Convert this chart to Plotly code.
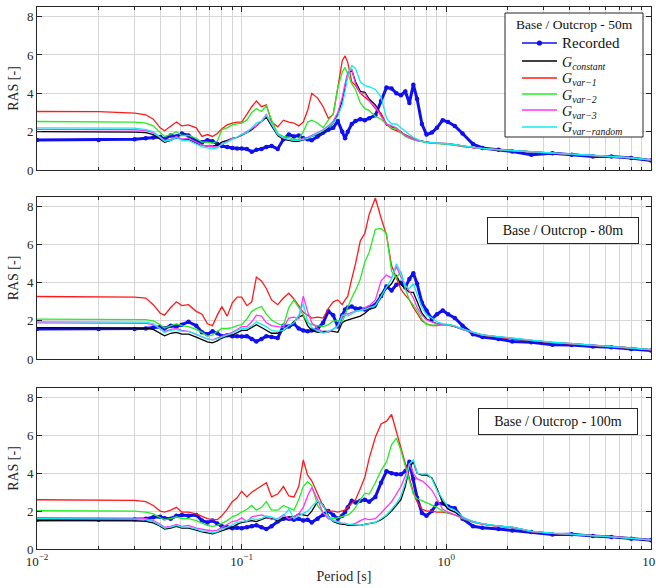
import plotly.graph_objects as go

# ---------------- data ----------------
period = [
    0.01, 0.02, 0.03, 0.034, 0.037, 0.04, 0.042, 0.045, 0.048, 0.051,
    0.055, 0.06, 0.064, 0.068, 0.072, 0.076, 0.08, 0.085, 0.09, 0.095,
    0.1, 0.106, 0.112, 0.118, 0.125, 0.132, 0.14, 0.15, 0.16, 0.17,
    0.18, 0.19, 0.2, 0.21, 0.22, 0.235, 0.25, 0.265, 0.28, 0.295,
    0.31, 0.32, 0.33, 0.345, 0.36, 0.38, 0.4, 0.42, 0.45, 0.48,
    0.51, 0.54, 0.57, 0.6, 0.63, 0.66, 0.69, 0.72, 0.76, 0.8,
    0.85, 0.9, 0.96, 1.02, 1.1, 1.2, 1.35, 1.5, 1.8, 2.1,
    2.6, 3.3, 4.1, 5.2, 6.4, 8.0, 10.0]

# ----- 50 m -----
rec_50 = [
    1.57, 1.57, 1.60, 1.65, 1.70, 1.72, 1.62, 1.80, 1.75, 1.90,
    1.80, 1.50, 1.45, 1.55, 1.50, 1.35, 1.25, 1.20, 1.15, 1.12,
    1.12, 1.10, 0.95, 1.05, 1.10, 1.20, 1.25, 1.10, 1.60, 1.85,
    1.75, 1.80, 1.65, 1.60, 1.55, 1.75, 1.95, 2.10, 2.20, 2.55,
    2.00, 1.65, 2.00, 2.40, 2.55, 2.65, 2.60, 2.70, 2.85, 3.60,
    4.30, 4.25, 4.00, 3.90, 4.10, 3.50, 4.45, 3.70, 2.40, 1.85,
    1.95, 2.20, 2.60, 2.50, 2.30, 1.90, 1.35, 1.15, 1.05, 0.96,
    0.80, 0.87, 0.80, 0.70, 0.70, 0.62, 0.50]
gc_50 = [
    2.00, 2.00, 1.98, 1.95, 1.85, 1.60, 1.45, 1.55, 1.70, 1.60,
    1.60, 1.40, 1.30, 1.25, 1.25, 1.30, 1.45, 1.55, 1.65, 1.70,
    1.80, 1.95, 2.10, 2.30, 2.50, 2.75, 2.30, 1.80, 1.60, 1.55,
    1.50, 1.50, 1.60, 1.70, 1.75, 1.85, 2.00, 2.20, 2.45, 2.90,
    3.60, 4.30, 5.00, 5.20, 4.60, 4.10, 4.05, 3.70, 3.40, 2.90,
    2.35, 2.25, 2.15, 2.00, 1.80, 1.70, 1.60, 1.55, 1.50, 1.45,
    1.42, 1.40, 1.40, 1.38, 1.32, 1.25, 1.17, 1.12, 1.06, 1.00,
    0.95, 0.88, 0.83, 0.76, 0.70, 0.64, 0.52]
gv1_50 = [
    3.05, 3.04, 2.97, 2.88, 2.65, 2.20, 2.05, 2.30, 2.50, 2.30,
    2.35, 2.20, 1.75, 1.85, 1.75, 1.90, 2.15, 2.35, 2.45, 2.50,
    2.50, 2.90, 3.30, 3.60, 3.30, 3.40, 2.50, 2.25, 2.60, 2.50,
    2.45, 2.30, 2.50, 3.10, 4.00, 3.75, 3.30, 2.70, 2.90, 4.30,
    5.70, 5.95, 5.60, 4.60, 4.40, 4.00, 3.80, 3.60, 3.20, 2.95,
    2.40, 2.15, 2.05, 1.95, 1.85, 1.75, 1.65, 1.55, 1.50, 1.45,
    1.40, 1.40, 1.38, 1.35, 1.30, 1.22, 1.15, 1.12, 1.05, 1.00,
    0.95, 0.88, 0.82, 0.75, 0.70, 0.63, 0.52]
gv2_50 = [
    2.53, 2.53, 2.50, 2.45, 2.30, 1.95, 1.75, 1.85, 2.00, 1.80,
    1.80, 1.65, 1.45, 1.45, 1.40, 1.50, 2.10, 2.20, 2.35, 2.40,
    2.45, 2.60, 3.00, 3.20, 3.05, 3.35, 2.60, 1.90, 1.75, 1.70,
    1.60, 1.60, 2.00, 2.50, 2.60, 2.45, 2.20, 2.60, 2.90, 4.30,
    5.10, 5.35, 5.00, 4.50, 4.20, 3.50, 3.20, 3.10, 2.80, 2.65,
    2.40, 2.20, 2.15, 1.95, 1.75, 1.65, 1.57, 1.52, 1.48, 1.42,
    1.40, 1.38, 1.38, 1.36, 1.30, 1.24, 1.16, 1.11, 1.05, 1.00,
    0.94, 0.87, 0.82, 0.75, 0.70, 0.63, 0.52]
gv3_50 = [
    2.12, 2.12, 2.10, 2.05, 1.95, 1.70, 1.55, 1.60, 1.75, 1.60,
    1.65, 1.45, 1.30, 1.25, 1.20, 1.20, 1.35, 1.50, 1.65, 1.70,
    1.85, 2.00, 2.15, 2.30, 2.55, 2.90, 2.40, 1.85, 1.65, 1.60,
    1.55, 1.55, 1.65, 1.70, 1.80, 1.95, 2.10, 2.30, 2.55, 3.00,
    3.80, 4.50, 5.10, 5.25, 4.50, 4.00, 4.00, 3.60, 3.30, 2.80,
    2.40, 2.30, 2.20, 2.00, 1.80, 1.70, 1.60, 1.55, 1.50, 1.45,
    1.42, 1.40, 1.40, 1.37, 1.31, 1.25, 1.17, 1.12, 1.06, 1.00,
    0.95, 0.88, 0.83, 0.76, 0.70, 0.64, 0.52]
gvr_50 = [
    2.20, 2.20, 2.18, 2.10, 2.00, 1.70, 1.50, 1.55, 1.70, 1.55,
    1.55, 1.35, 1.20, 1.15, 1.10, 1.15, 1.35, 1.45, 1.60, 1.75,
    1.85, 1.95, 2.20, 2.45, 2.55, 2.85, 2.40, 1.85, 1.70, 1.60,
    1.55, 1.55, 1.60, 1.65, 1.75, 1.90, 2.05, 2.25, 2.45, 2.80,
    3.40, 4.10, 4.90, 5.45, 5.30, 4.60, 4.40, 4.35, 4.20, 3.80,
    2.70, 2.40, 2.40, 2.20, 2.00, 1.85, 1.70, 1.60, 1.50, 1.45,
    1.43, 1.41, 1.40, 1.38, 1.33, 1.26, 1.18, 1.13, 1.06, 1.01,
    0.95, 0.89, 0.83, 0.77, 0.71, 0.64, 0.53]

# ----- 80 m -----
rec_80 = [
    1.57, 1.57, 1.58, 1.60, 1.65, 1.68, 1.60, 1.75, 1.70, 1.80,
    1.95, 1.75, 1.40, 1.30, 1.45, 1.35, 1.20, 1.25, 1.20, 1.20,
    1.18, 1.20, 1.05, 0.92, 1.05, 1.20, 1.15, 1.10, 1.75, 1.70,
    1.85, 1.60, 1.50, 1.45, 1.50, 1.60, 1.90, 2.50, 2.30, 1.70,
    2.30, 2.60, 2.70, 2.75, 2.65, 2.65, 2.60, 2.70, 2.85, 3.30,
    3.80, 3.60, 3.90, 4.00, 3.75, 4.20, 4.50, 3.95, 2.95, 2.55,
    2.10, 2.35, 2.55, 2.35, 2.15, 1.75, 1.30, 1.15, 1.05, 0.92,
    0.88, 0.75, 0.74, 0.66, 0.62, 0.52, 0.44]
gc_80 = [
    1.65, 1.65, 1.64, 1.62, 1.55, 1.35, 1.22, 1.35, 1.40, 1.30,
    1.30, 1.15, 1.00, 0.90, 0.85, 0.95, 1.10, 1.20, 1.25, 1.40,
    1.50, 1.50, 1.65, 1.80, 1.65, 1.50, 1.35, 1.35, 1.50, 1.70,
    1.95, 2.20, 2.30, 1.75, 1.50, 1.40, 1.45, 1.45, 1.45, 1.40,
    1.90, 2.00, 2.05, 2.10, 2.15, 2.25, 2.40, 2.60, 2.70, 3.40,
    3.70, 3.95, 4.40, 3.90, 3.70, 3.50, 3.50, 3.00, 2.40, 2.10,
    1.95, 1.85, 1.80, 1.80, 1.70, 1.55, 1.38, 1.25, 1.15, 1.08,
    0.95, 0.86, 0.80, 0.72, 0.66, 0.58, 0.48]
gv1_80 = [
    3.28, 3.28, 3.25, 3.20, 2.85, 2.40, 2.30, 2.70, 3.00, 2.80,
    2.85, 2.50, 2.35, 1.85, 1.75, 2.30, 2.75, 2.25, 2.95, 3.25,
    3.25, 2.80, 3.00, 4.30, 4.10, 3.70, 3.10, 2.85, 3.20, 3.45,
    3.15, 2.80, 2.45, 2.30, 2.15, 2.20, 2.15, 2.65, 3.00, 3.10,
    2.85, 3.10, 3.30, 4.20, 5.00, 6.20, 6.60, 7.60, 8.45, 7.40,
    6.50, 4.90, 4.30, 3.65, 3.35, 3.10, 2.70, 2.40, 2.00, 1.85,
    1.75, 1.75, 1.80, 1.78, 1.70, 1.55, 1.38, 1.25, 1.15, 1.08,
    0.95, 0.86, 0.80, 0.72, 0.66, 0.58, 0.48]
gv2_80 = [
    2.09, 2.09, 2.08, 2.07, 2.00, 1.80, 1.62, 1.75, 1.85, 1.75,
    1.70, 1.55, 1.40, 1.20, 1.25, 1.45, 1.60, 1.60, 1.65, 1.75,
    1.80, 2.10, 2.50, 2.65, 2.75, 2.35, 2.05, 1.85, 1.75, 2.70,
    3.10, 2.70, 2.30, 1.90, 1.80, 1.75, 1.70, 1.80, 2.00, 2.00,
    1.95, 2.30, 2.75, 3.20, 3.60, 4.20, 5.10, 5.60, 6.80, 6.85,
    6.60, 4.60, 4.25, 4.60, 3.70, 3.10, 2.80, 2.55, 2.10, 1.80,
    1.78, 1.78, 1.80, 1.80, 1.72, 1.56, 1.40, 1.26, 1.16, 1.10,
    0.96, 0.87, 0.81, 0.73, 0.67, 0.59, 0.49]
gv3_80 = [
    1.90, 1.90, 1.89, 1.87, 1.80, 1.60, 1.42, 1.55, 1.60, 1.50,
    1.45, 1.30, 1.15, 1.05, 1.00, 1.10, 1.20, 1.30, 1.40, 1.55,
    1.70, 1.70, 1.95, 2.30, 2.25, 1.90, 1.75, 1.70, 1.65, 2.15,
    2.20, 2.10, 3.30, 2.50, 1.90, 1.60, 1.40, 1.40, 1.55, 1.75,
    2.20, 2.40, 2.35, 2.45, 2.50, 2.55, 2.70, 2.80, 3.10, 4.10,
    4.40, 4.25, 4.85, 4.30, 3.90, 3.50, 3.20, 2.70, 2.30, 2.05,
    1.95, 1.85, 1.82, 1.80, 1.72, 1.56, 1.39, 1.26, 1.16, 1.09,
    0.96, 0.86, 0.80, 0.73, 0.66, 0.58, 0.48]
gvr_80 = [
    1.96, 1.96, 1.95, 1.93, 1.85, 1.60, 1.40, 1.50, 1.55, 1.45,
    1.45, 1.30, 1.15, 1.05, 1.00, 1.05, 1.15, 1.25, 1.35, 1.50,
    1.60, 1.60, 1.75, 1.95, 1.80, 1.70, 1.50, 1.45, 1.50, 1.75,
    1.90, 2.30, 2.90, 2.00, 1.65, 1.50, 1.35, 1.45, 1.60, 1.70,
    2.30, 2.30, 2.25, 2.40, 2.50, 2.55, 2.60, 2.70, 2.80, 3.30,
    3.80, 4.20, 5.00, 4.50, 3.80, 3.70, 3.95, 3.40, 2.70, 2.30,
    2.15, 1.95, 1.85, 1.82, 1.74, 1.58, 1.40, 1.27, 1.17, 1.10,
    0.97, 0.88, 0.81, 0.73, 0.67, 0.59, 0.49]

# ----- 100 m -----
rec_100 = [
    1.55, 1.55, 1.57, 1.60, 1.68, 1.70, 1.62, 1.60, 1.75, 1.80,
    1.75, 1.80, 1.50, 1.40, 1.50, 1.35, 1.20, 1.15, 1.10, 1.12,
    1.10, 1.15, 1.20, 1.25, 1.15, 1.05, 1.20, 1.45, 1.60, 1.60,
    1.55, 1.60, 1.50, 1.55, 1.40, 1.60, 1.80, 2.00, 1.80, 1.60,
    1.75, 1.95, 2.20, 2.55, 2.45, 2.55, 2.60, 2.50, 2.75, 3.50,
    4.10, 4.00, 3.95, 3.95, 4.10, 4.60, 3.70, 2.70, 1.90, 1.75,
    2.00, 2.40, 2.40, 2.25, 2.15, 1.60, 1.20, 1.12, 1.05, 0.98,
    0.90, 0.76, 0.78, 0.68, 0.64, 0.54, 0.46]
gc_100 = [
    1.50, 1.50, 1.49, 1.46, 1.38, 1.20, 1.05, 1.10, 1.20, 1.10,
    1.10, 1.00, 0.90, 0.85, 0.80, 0.88, 0.95, 1.05, 1.15, 1.30,
    1.40, 1.45, 1.50, 1.45, 1.55, 1.65, 1.60, 1.50, 1.65, 1.70,
    1.70, 1.85, 1.80, 1.75, 2.00, 2.50, 2.35, 1.75, 1.45, 1.35,
    1.30, 1.30, 1.25, 1.25, 1.22, 1.25, 1.30, 1.35, 1.40, 1.55,
    1.75, 2.00, 2.30, 2.60, 3.30, 4.30, 4.60, 4.00, 3.90, 3.90,
    3.75, 3.20, 2.45, 2.10, 1.95, 1.65, 1.44, 1.33, 1.21, 1.14,
    0.93, 0.83, 0.79, 0.71, 0.65, 0.57, 0.47]
gv1_100 = [
    2.60, 2.60, 2.57, 2.50, 2.30, 2.00, 1.95, 2.05, 2.20, 1.95,
    1.95, 1.85, 1.70, 1.60, 1.55, 1.55, 1.75, 2.10, 2.50, 2.70,
    3.05, 2.75, 3.00, 3.15, 3.30, 3.50, 2.75, 2.90, 3.30, 2.80,
    2.75, 3.30, 4.70, 3.90, 3.60, 2.90, 2.25, 2.00, 2.00, 1.95,
    2.00, 2.05, 2.20, 2.40, 2.60, 3.20, 3.80, 4.80, 5.90, 6.60,
    6.75, 7.10, 6.20, 5.30, 4.40, 3.70, 3.00, 2.50, 2.10, 2.00,
    2.00, 1.95, 1.95, 1.90, 1.80, 1.62, 1.42, 1.32, 1.20, 1.15,
    0.93, 0.83, 0.78, 0.71, 0.65, 0.57, 0.48]
gv2_100 = [
    2.03, 2.03, 2.00, 1.95, 1.85, 1.65, 1.55, 1.60, 1.70, 1.60,
    1.60, 1.50, 1.35, 1.25, 1.20, 1.25, 1.35, 1.50, 1.70, 1.80,
    1.95, 2.10, 2.30, 2.05, 2.20, 2.50, 2.05, 2.05, 2.30, 2.15,
    2.05, 2.60, 3.30, 3.55, 3.35, 2.30, 1.90, 1.70, 1.60, 1.65,
    1.70, 1.75, 1.80, 1.95, 2.20, 2.60, 2.95, 2.90, 3.50, 4.15,
    4.60, 5.50, 5.85, 5.20, 4.30, 3.60, 2.90, 2.65, 2.55, 2.45,
    2.35, 2.20, 2.00, 1.92, 1.80, 1.62, 1.42, 1.32, 1.20, 1.14,
    0.92, 0.82, 0.78, 0.70, 0.65, 0.57, 0.47]
gv3_100 = [
    1.65, 1.65, 1.63, 1.60, 1.50, 1.30, 1.15, 1.20, 1.30, 1.20,
    1.25, 1.10, 1.05, 1.00, 0.95, 1.00, 1.15, 1.30, 1.45, 1.50,
    1.65, 1.45, 1.70, 1.75, 1.80, 1.70, 1.55, 1.60, 1.80, 1.60,
    1.70, 1.85, 2.20, 2.80, 3.25, 2.60, 1.90, 1.60, 1.50, 1.45,
    1.35, 1.35, 1.30, 1.30, 1.35, 1.50, 1.60, 1.55, 1.60, 1.90,
    2.20, 2.50, 2.90, 3.30, 3.85, 4.50, 4.00, 3.70, 3.60, 3.40,
    3.10, 2.60, 2.10, 1.95, 1.82, 1.63, 1.43, 1.32, 1.20, 1.14,
    0.92, 0.83, 0.78, 0.71, 0.65, 0.57, 0.47]
gvr_100 = [
    1.60, 1.60, 1.58, 1.55, 1.45, 1.25, 1.10, 1.15, 1.25, 1.15,
    1.15, 1.05, 0.95, 0.92, 0.85, 0.90, 1.05, 1.15, 1.30, 1.40,
    1.45, 1.50, 1.60, 1.55, 1.60, 1.75, 1.70, 1.55, 1.75, 2.10,
    1.60, 1.75, 1.90, 2.00, 2.25, 2.55, 2.30, 1.70, 1.50, 1.40,
    1.35, 1.35, 1.30, 1.28, 1.25, 1.25, 1.30, 1.35, 1.40, 1.60,
    1.80, 2.10, 2.40, 2.80, 3.50, 4.50, 4.70, 4.00, 3.95, 4.00,
    3.70, 3.10, 2.60, 2.20, 2.05, 1.70, 1.45, 1.34, 1.22, 1.15,
    0.94, 0.84, 0.79, 0.71, 0.66, 0.58, 0.48]

series_names = ["Recorded",
                "<i>G</i><sub><i>constant</i></sub>",
                "<i>G</i><sub><i>var\u22121</i></sub>",
                "<i>G</i><sub><i>var\u22122</i></sub>",
                "<i>G</i><sub><i>var\u22123</i></sub>",
                "<i>G</i><sub><i>var\u2212random</i></sub>"]
panel_labels = ["Base / Outcrop - 50m", "Base / Outcrop - 80m", "Base / Outcrop - 100m"]
x_tick_vals = [0.01, 0.1, 1, 10]
x_tick_text = ["10<sup>\u22122</sup>", "10<sup>\u22121</sup>", "10<sup>0</sup>", "10<sup>1</sup>"]
y_tick_vals = [0, 2, 4, 6, 8]

# ---------------- styling ----------------
colors = ["#1010ee", "#000000", "#ff1a1a", "#22ee22", "#ff33ff", "#11eeee"]
FONT = "Liberation Serif"
AX = "#262626"
GRID = "#d6d6d6"

panels = [
    [rec_50, gc_50, gv1_50, gv2_50, gv3_50, gvr_50],
    [rec_80, gc_80, gv1_80, gv2_80, gv3_80, gvr_80],
    [rec_100, gc_100, gv1_100, gv2_100, gv3_100, gvr_100],
]

W, H = 656, 588
ml, mr, mt, mb = 37, 5, 7, 39
pw = W - ml - mr
ph = H - mt - mb
rows_px = [(7, 170), (197, 359), (388, 549)]
domains = [[max(0.0, (H - mb - b) / ph), min(1.0, (H - mb - t) / ph)] for t, b in rows_px]


def fx(px):
    return (px - ml) / pw


def fy(py):
    return (H - mb - py) / ph


fig = go.Figure()
for i, data in enumerate(panels):
    xa = "x" if i == 0 else f"x{i+1}"
    ya = "y" if i == 0 else f"y{i+1}"
    for j, vals in enumerate(data):
        if j == 0:
            fig.add_trace(go.Scatter(
                x=period, y=vals, mode="lines+markers", name=series_names[j],
                line=dict(color=colors[j], width=3.0),
                marker=dict(color=colors[j], size=4.5),
                showlegend=False, xaxis=xa, yaxis=ya))
        else:
            fig.add_trace(go.Scatter(
                x=period, y=vals, mode="lines", name=series_names[j],
                line=dict(color=colors[j], width=1.3),
                showlegend=False, xaxis=xa, yaxis=ya))

minor_vals = [m * 10 ** e for e in (-2, -1, 0) for m in range(2, 10)]

shapes = []
annotations = []

# legend box (top panel), drawn by hand to match entry spacing
shapes.append(dict(type="rect", xref="paper", yref="paper",
                   x0=fx(505), x1=fx(643), y0=fy(137), y1=fy(13),
                   line=dict(color=AX, width=1), fillcolor="white", layer="above"))
annotations.append(dict(text=panel_labels[0], xref="paper", yref="paper",
                        x=fx(574), y=fy(24), xanchor="center", yanchor="middle",
                        showarrow=False, font=dict(family=FONT, size=13.5, color="#111111")))
entry_rows = [43, 61, 78, 94, 110, 127]
for j, ry in enumerate(entry_rows):
    shapes.append(dict(type="line", xref="paper", yref="paper",
                       x0=fx(522), x1=fx(557), y0=fy(ry), y1=fy(ry),
                       line=dict(color=colors[j], width=1.6), layer="above"))
    if j == 0:
        shapes.append(dict(type="circle", xref="paper", yref="paper",
                           xsizemode="pixel", ysizemode="pixel",
                           xanchor=fx(539.5), yanchor=fy(ry),
                           x0=-2.6, x1=2.6, y0=-2.6, y1=2.6,
                           fillcolor=colors[0], line=dict(color=colors[0], width=0),
                           layer="above"))
    annotations.append(dict(text=series_names[j], xref="paper", yref="paper",
                            x=fx(560), y=fy(ry + (2 if j > 0 else 0)),
                            xanchor="left", yanchor="middle", showarrow=False,
                            font=dict(family=FONT, size=15 if j == 0 else 14, color="#111111")))

# panel label boxes for 80 m and 100 m
box_pos = [(563, 230.5), (558, 421)]
box_w = [142, 150]
for k, (cx, cy) in enumerate(box_pos):
    annotations.append(dict(
        text=panel_labels[k + 1], xref="paper", yref="paper",
        x=fx(cx), y=fy(cy), xanchor="center", yanchor="middle", showarrow=False,
        width=box_w[k], height=17, align="center",
        font=dict(family=FONT, size=14, color="#111111"),
        bgcolor="white", bordercolor=AX, borderwidth=1, borderpad=4))

layout = dict(
    width=W, height=H,
    margin=dict(l=ml, r=mr, t=mt, b=mb, autoexpand=False),
    paper_bgcolor="white", plot_bgcolor="white",
    font=dict(family=FONT, size=13, color=AX),
    showlegend=False,
    shapes=shapes, annotations=annotations,
)

for i in range(3):
    xk = "xaxis" if i == 0 else f"xaxis{i+1}"
    yk = "yaxis" if i == 0 else f"yaxis{i+1}"
    ya = "y" if i == 0 else f"y{i+1}"
    xa = "x" if i == 0 else f"x{i+1}"
    layout[xk] = dict(
        type="log", range=[-2, 1], domain=[0, 1], anchor=ya,
        tickmode="array", tickvals=x_tick_vals, ticktext=x_tick_text,
        showticklabels=(i == 2), ticklabeloverflow="allow",
        ticks="inside", ticklen=5, tickcolor=AX,
        showgrid=True, gridcolor=GRID, gridwidth=1,
        showline=True, linecolor=AX, linewidth=1, mirror="allticks",
        zeroline=False,
        minor=dict(tickmode="array", tickvals=minor_vals, ticks="inside",
                   ticklen=3, tickcolor=AX, showgrid=True, gridcolor=GRID),
        tickfont=dict(family=FONT, size=13, color=AX),
    )
    layout[yk] = dict(
        range=[0, 8.5], domain=domains[i], anchor=xa,
        tickmode="array", tickvals=y_tick_vals,
        ticks="inside", ticklen=5, tickcolor=AX,
        showgrid=True, gridcolor=GRID, gridwidth=1,
        showline=True, linecolor=AX, linewidth=1, mirror="allticks",
        zeroline=False,
        tickfont=dict(family=FONT, size=13, color=AX),
        title=dict(text="RAS [-]", standoff=5,
                   font=dict(family=FONT, size=14, color=AX)),
    )

layout["xaxis3"]["title"] = dict(text="Period [s]", standoff=3,
                                 font=dict(family=FONT, size=14, color=AX))

fig.update_layout(**layout)
fig.write_html("out.html",
               config={"displayModeBar": False},
               post_script="document.body.style.margin='0px';document.body.style.overflow='hidden';")
